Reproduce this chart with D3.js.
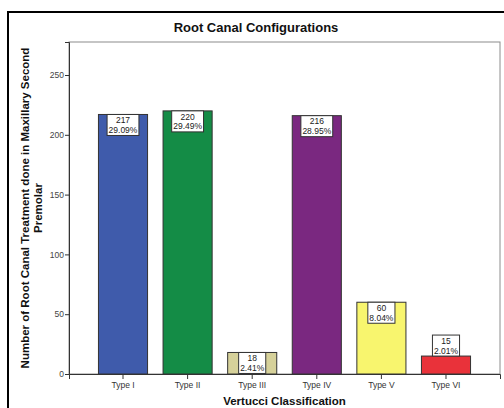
<!DOCTYPE html>
<html>
<head>
<meta charset="utf-8">
<script src="https://cdn.jsdelivr.net/npm/d3@7/dist/d3.min.js"></script>
<style>
  html, body { margin: 0; padding: 0; background: #fff; }
  svg { display: block; font-family: "Liberation Sans", Arial, sans-serif; }
</style>
</head>
<body>
<svg id="chart" width="504" height="408"></svg>
<script>
// Vertucci root canal configuration counts
const categories = ["Type I", "Type II", "Type III", "Type IV", "Type V", "Type VI"];
const counts = [217, 220, 18, 216, 60, 15];
const percents = ["29.09%", "29.49%", "2.41%", "28.95%", "8.04%", "2.01%"];
const colors = ["#3f5bab", "#148c46", "#d6d19a", "#7a2880", "#f8f56e", "#e9323a"];
const yTicks = [0, 50, 100, 150, 200, 250];

const svg = d3.select("#chart");
const plot = { left: 69, right: 500, top: 42, bottom: 374 };

// outer frame
svg.append("rect")
  .attr("x", 8).attr("y", 12).attr("width", 510).attr("height", 410)
  .attr("fill", "none").attr("stroke", "#000").attr("stroke-width", 2);

// plot area border
svg.append("rect")
  .attr("x", plot.left).attr("y", plot.top)
  .attr("width", plot.right - plot.left).attr("height", plot.bottom - plot.top)
  .attr("fill", "#fff").attr("stroke", "#8c8c8c").attr("stroke-width", 1);

const x = d3.scaleBand()
  .domain(categories)
  .range([plot.left, plot.right])
  .paddingInner(0.24)
  .paddingOuter(0.456);

const y = d3.scaleLinear()
  .domain([0, 277.6])
  .range([plot.bottom, plot.top]);

// bars
svg.append("g").selectAll("rect")
  .data(categories)
  .join("rect")
  .attr("x", d => x(d))
  .attr("y", (d, i) => y(counts[i]))
  .attr("width", x.bandwidth())
  .attr("height", (d, i) => y(0) - y(counts[i]))
  .attr("fill", (d, i) => colors[i])
  .attr("stroke", "#333")
  .attr("stroke-width", 1);

// y axis
const yAxis = svg.append("g")
  .attr("transform", `translate(${plot.left},0)`)
  .call(d3.axisLeft(y).tickValues(yTicks).tickSize(4).tickPadding(1));
yAxis.select(".domain").attr("stroke", "#333");
yAxis.selectAll(".tick line").attr("stroke", "#333");
yAxis.selectAll(".tick text")
  .attr("font-size", 8.5).attr("fill", "#444")
  .attr("font-family", "Liberation Sans, Arial, sans-serif");

// x axis
const xAxis = svg.append("g")
  .attr("transform", `translate(0,${plot.bottom})`)
  .call(d3.axisBottom(x).tickSize(5).tickPadding(3));
xAxis.select(".domain").attr("stroke", "#333");
xAxis.selectAll(".tick line").attr("stroke", "#333");
xAxis.selectAll(".tick text")
  .attr("font-size", 8.5).attr("fill", "#333")
  .attr("font-family", "Liberation Sans, Arial, sans-serif");

// value labels: count and percentage in a white box at the bar top
const boxH = 21;
const labels = svg.append("g").selectAll("g")
  .data(categories)
  .join("g");
labels.each(function (d, i) {
  const g = d3.select(this);
  const cx = x(d) + x.bandwidth() / 2;
  const barTop = y(counts[i]);
  const barH = y(0) - barTop;
  const top = barH >= boxH ? barTop : barTop - boxH;
  const rect = g.append("rect")
    .attr("y", top).attr("height", boxH)
    .attr("fill", "#fff").attr("stroke", "#333").attr("stroke-width", 1);
  g.append("text")
    .attr("x", cx).attr("y", top + 8.8)
    .attr("text-anchor", "middle").attr("font-size", 8.5).attr("fill", "#222")
    .text(counts[i]);
  const pct = g.append("text")
    .attr("x", cx).attr("y", top + 18.5)
    .attr("text-anchor", "middle").attr("font-size", 8.5).attr("fill", "#222")
    .text(percents[i]);
  const w = pct.node().getComputedTextLength() + 3;
  rect.attr("x", cx - w / 2).attr("width", w);
});

// titles
svg.append("text")
  .attr("x", 256).attr("y", 32)
  .attr("text-anchor", "middle")
  .attr("font-size", 13).attr("font-weight", "bold").attr("fill", "#111")
  .text("Root Canal Configurations");

svg.append("text")
  .attr("x", (plot.left + plot.right) / 2).attr("y", 405)
  .attr("text-anchor", "middle")
  .attr("font-size", 11.5).attr("font-weight", "bold").attr("fill", "#111")
  .text("Vertucci Classification");

const yMid = (plot.top + plot.bottom) / 2;
const yTitle = svg.append("text")
  .attr("transform", `translate(29,${yMid}) rotate(-90)`)
  .attr("text-anchor", "middle")
  .attr("font-size", 11.5).attr("font-weight", "bold").attr("fill", "#111");
yTitle.append("tspan").attr("x", 0).attr("dy", 0)
  .text("Number of Root Canal Treatment done in Maxillary Second");
yTitle.append("tspan").attr("x", 0).attr("dy", 13)
  .text("Premolar");
</script>
</body>
</html>
